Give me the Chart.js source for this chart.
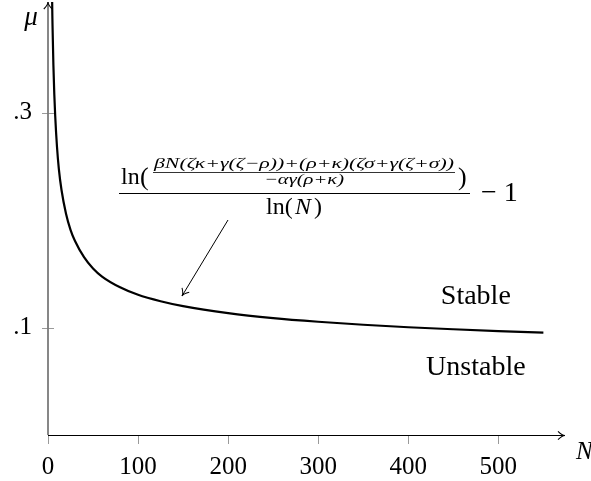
<!DOCTYPE html>
<html>
<head>
<meta charset="utf-8">
<script src="https://cdn.jsdelivr.net/npm/chart.js@4.4.1/dist/chart.umd.min.js"></script>
<style>
  html, body { margin: 0; padding: 0; background: #fff; }
  #wrap { width: 591px; height: 481px; }
</style>
</head>
<body>
<div id="wrap"><canvas id="muChart"></canvas></div>
<script>
const nValues = [3, 4, 5, 6, 7, 8, 10, 12, 15, 20, 25, 30, 40, 50, 60, 80, 100, 125, 150, 200, 250, 300, 350, 400, 450, 500, 550];
const muValues = [0.560, 0.440, 0.382, 0.344, 0.317, 0.297, 0.268, 0.248, 0.228, 0.206, 0.191, 0.1805, 0.1655, 0.1550, 0.1475, 0.1375, 0.1305, 0.1245, 0.1199, 0.1134, 0.1088, 0.1054, 0.1026, 0.1003, 0.0984, 0.0967, 0.0953];
const xTicks = [0, 100, 200, 300, 400, 500];
const yTicks = [0.1, 0.3];
const yTickLabels = ['.1', '.3'];

const SERIF = "'Liberation Serif', 'DejaVu Serif', serif";

function arrowHead(ctx, x, y, angle, size) {
  ctx.save();
  ctx.translate(x, y);
  ctx.rotate(angle);
  ctx.beginPath();
  ctx.moveTo(-size, -size * 0.6);
  ctx.quadraticCurveTo(-size * 0.4, 0, 0, 0);
  ctx.quadraticCurveTo(-size * 0.4, 0, -size, size * 0.6);
  ctx.stroke();
  ctx.restore();
}

// draw text squeezed / stretched to a given width
function fitText(ctx, text, cx, y, width) {
  const w = ctx.measureText(text).width;
  ctx.save();
  ctx.translate(cx, y);
  ctx.scale(width / w, 1);
  ctx.textAlign = 'center';
  ctx.fillText(text, 0, 0);
  ctx.restore();
}

const axesPlugin = {
  id: 'axesPlugin',
  beforeDatasetsDraw(chart) {
    const ctx = chart.ctx;
    const xs = chart.scales.x, ys = chart.scales.y;
    const x0 = xs.getPixelForValue(0), y0 = ys.getPixelForValue(0);
    const area = chart.chartArea;
    ctx.save();
    // tick marks
    ctx.strokeStyle = '#9a9a9a';
    ctx.lineWidth = 1;
    xTicks.forEach(v => {
      const px = Math.round(xs.getPixelForValue(v)) + 0.5;
      ctx.beginPath();
      ctx.moveTo(px, y0 + 1);
      ctx.lineTo(px, y0 + 9);
      ctx.stroke();
    });
    yTicks.forEach(v => {
      const py = Math.round(ys.getPixelForValue(v)) + 0.5;
      ctx.beginPath();
      ctx.moveTo(x0 - 6, py);
      ctx.lineTo(x0 + 6, py);
      ctx.stroke();
    });
    // y axis (grey)
    ctx.strokeStyle = '#7a7a7a';
    ctx.lineWidth = 1.8;
    ctx.beginPath();
    ctx.moveTo(x0, y0);
    ctx.lineTo(x0, area.top);
    ctx.stroke();
    // x axis (black)
    ctx.strokeStyle = '#000';
    ctx.lineWidth = 1.1;
    ctx.beginPath();
    ctx.moveTo(x0, y0 + 0.5);
    ctx.lineTo(area.right, y0 + 0.5);
    ctx.stroke();
    arrowHead(ctx, area.right, y0 + 0.5, 0, 7);
    arrowHead(ctx, x0, area.top, -Math.PI / 2, 7);
    ctx.restore();
  },
  afterDraw(chart) {
    const ctx = chart.ctx;
    const xs = chart.scales.x, ys = chart.scales.y;
    ctx.save();
    ctx.fillStyle = '#000';
    ctx.strokeStyle = '#000';
    ctx.textBaseline = 'middle';

    // axis names
    ctx.font = 'italic 27px ' + SERIF;
    ctx.textAlign = 'center';
    ctx.fillText('\u03bc', 31, 18);
    ctx.font = 'italic 25px ' + SERIF;
    ctx.textAlign = 'left';
    ctx.fillText('N', 576, 452);

    // region labels
    ctx.font = '28px ' + SERIF;
    ctx.textAlign = 'center';
    ctx.fillText('Stable', xs.getPixelForValue(475), ys.getPixelForValue(0.1286));
    ctx.fillText('Unstable', xs.getPixelForValue(475), ys.getPixelForValue(0.0625));

    // formula
    ctx.textBaseline = 'alphabetic';
    ctx.font = 'italic 15px ' + SERIF;
    fitText(ctx, '\u03b2N(\u03b6\u03ba+\u03b3(\u03b6\u2212\u03c1))+(\u03c1+\u03ba)(\u03b6\u03c3+\u03b3(\u03b6+\u03c3))', 304, 168, 300);
    ctx.lineWidth = 0.8;
    ctx.beginPath();
    ctx.moveTo(153, 172.5);
    ctx.lineTo(455, 172.5);
    ctx.stroke();
    fitText(ctx, '\u2212\u03b1\u03b3(\u03c1+\u03ba)', 304, 184, 80);

    ctx.font = '24px ' + SERIF;
    ctx.textAlign = 'left';
    ctx.fillText('ln', 121, 184);
    ctx.font = '26px ' + SERIF;
    ctx.fillText('(', 140, 185);
    ctx.fillText(')', 458, 185);

    ctx.lineWidth = 1;
    ctx.beginPath();
    ctx.moveTo(119, 193.5);
    ctx.lineTo(470, 193.5);
    ctx.stroke();

    ctx.font = '24px ' + SERIF;
    ctx.fillText('ln(', 266, 214);
    ctx.font = 'italic 24px ' + SERIF;
    ctx.fillText('N', 295, 214);
    ctx.font = '24px ' + SERIF;
    ctx.fillText(')', 314, 214);

    ctx.font = '28px ' + SERIF;
    ctx.fillText('\u2212 1', 481, 201);

    // annotation arrow
    ctx.lineWidth = 1;
    ctx.beginPath();
    ctx.moveTo(228, 220);
    ctx.lineTo(182, 296);
    ctx.stroke();
    arrowHead(ctx, 182, 296, Math.atan2(76, -46), 7);
    ctx.restore();
  }
};

new Chart(document.getElementById('muChart'), {
  type: 'line',
  data: {
    datasets: [{
      data: nValues.map((n, i) => ({ x: n, y: muValues[i] })),
      borderColor: '#000',
      borderWidth: 2.2,
      pointRadius: 0,
      cubicInterpolationMode: 'monotone',
      fill: false
    }]
  },
  options: {
    responsive: true,
    maintainAspectRatio: false,
    animation: false,
    layout: { padding: { top: 2, right: 26, left: 0, bottom: 0 } },
    plugins: { legend: { display: false }, tooltip: { enabled: false } },
    scales: {
      x: {
        type: 'linear',
        min: 0,
        max: 574,
        grid: { display: false },
        border: { display: false },
        afterBuildTicks: (axis) => { axis.ticks = xTicks.map(v => ({ value: v })); },
        afterFit: (axis) => { axis.height = 46; axis.paddingLeft = 0; axis.paddingRight = 0; },
        ticks: {
          color: '#000',
          padding: 9,
          maxRotation: 0,
          font: { family: SERIF, size: 25 }
        }
      },
      y: {
        type: 'linear',
        min: 0,
        max: 0.403,
        grid: { display: false },
        border: { display: false },
        afterBuildTicks: (axis) => { axis.ticks = yTicks.map(v => ({ value: v })); },
        afterFit: (axis) => { axis.width = 48; axis.paddingTop = 0; axis.paddingBottom = 0; },
        ticks: {
          color: '#000',
          padding: 8,
          font: { family: SERIF, size: 25 },
          callback: (value) => yTickLabels[yTicks.indexOf(value)]
        }
      }
    }
  },
  plugins: [axesPlugin]
});
</script>
</body>
</html>
